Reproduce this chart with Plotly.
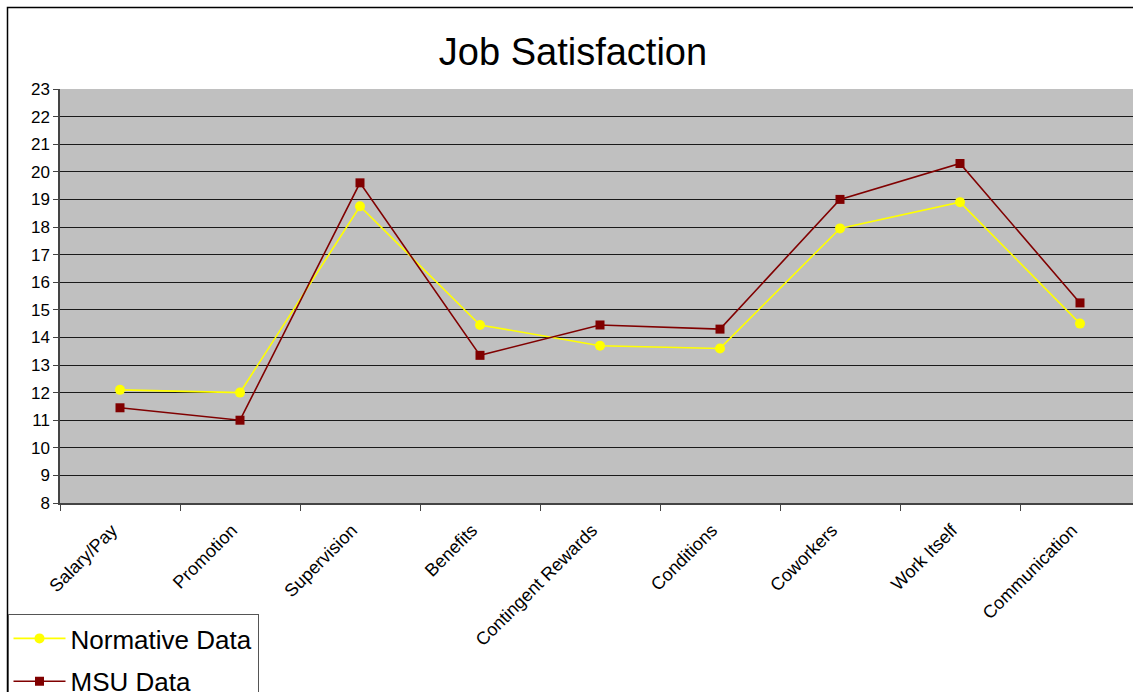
import plotly.graph_objects as go

# Job satisfaction facet scores
categories = [
    "Salary/Pay", "Promotion", "Supervision", "Benefits", "Contingent Rewards",
    "Conditions", "Coworkers", "Work Itself", "Communication",
]
normative_data = [12.1, 12.0, 18.75, 14.45, 13.7, 13.6, 17.95, 18.9, 14.5]
msu_data = [11.45, 11.0, 19.6, 13.35, 14.45, 14.3, 19.0, 20.3, 15.25]
y_ticks = list(range(8, 24))

W, H = 1133, 692
L, T, B = 60, 89, 503  # plot-area pixel edges

FONT = "Liberation Sans, Arial, sans-serif"

fig = go.Figure()
fig.add_trace(go.Scatter(
    x=categories, y=normative_data, name="Normative Data",
    mode="lines+markers", legendgroup="a",
    line=dict(color="#FFFF00", width=1.6),
    marker=dict(symbol="circle", size=10, color="#FFFF00"),
))
fig.add_trace(go.Scatter(
    x=categories, y=msu_data, name="MSU Data",
    mode="lines+markers", legendgroup="b",
    line=dict(color="#800000", width=1.6),
    marker=dict(symbol="square", size=9, color="#800000"),
))

# outer chart frame (pixel -> paper coordinates)
def px_x(p):
    return (p - L) / (W - L)

def px_y(p):
    return (B - p) / (B - T)

fig.add_shape(
    type="rect", xref="paper", yref="paper",
    x0=px_x(7.5), x1=px_x(W + 20), y0=px_y(7.5), y1=px_y(H + 20),
    line=dict(color="black", width=1.5), fillcolor="rgba(0,0,0,0)", layer="below",
)

fig.update_layout(
    width=W, height=H,
    margin=dict(l=L, r=0, t=T, b=H - B, pad=0, autoexpand=False),
    paper_bgcolor="white",
    plot_bgcolor="#C0C0C0",
    font=dict(family=FONT, color="black", size=16),
    title=dict(
        text="Job Satisfaction", font=dict(size=38, family=FONT, color="black"),
        x=573 / W, xref="container", xanchor="center",
        y=1 - 52 / H, yref="container", yanchor="middle",
    ),
    showlegend=True,
    legend=dict(
        xref="container", yref="container",
        x=7.5 / W, y=1 - 614 / H, xanchor="left", yanchor="top",
        bgcolor="white", bordercolor="#555555", borderwidth=1,
        font=dict(size=26, family=FONT, color="black"),
        traceorder="grouped", tracegroupgap=6,
        itemwidth=52,
    ),
    xaxis=dict(
        type="category", categoryorder="array", categoryarray=categories,
        range=[-0.5, -0.5 + (W - L) / 120.0],
        showgrid=False, zeroline=False,
        showline=True, linecolor="#444444", linewidth=1.5,
        ticks="outside", tickson="boundaries", ticklen=6,
        tickcolor="#444444", tickwidth=1,
        tickangle=-45, tickfont=dict(size=18, family=FONT),
        ticklabelshift=-8, ticklabelstandoff=8,
    ),
    yaxis=dict(
        range=[8, 23], tickmode="array", tickvals=y_ticks,
        ticktext=[str(v) for v in y_ticks],
        showgrid=True, gridcolor="#1a1a1a", gridwidth=1,
        zeroline=False,
        showline=True, linecolor="#444444", linewidth=1.5,
        ticks="outside", ticklen=5, tickcolor="#444444", tickwidth=1,
        tickfont=dict(size=17, family=FONT),
    ),
)

fig.write_html("out.html")
